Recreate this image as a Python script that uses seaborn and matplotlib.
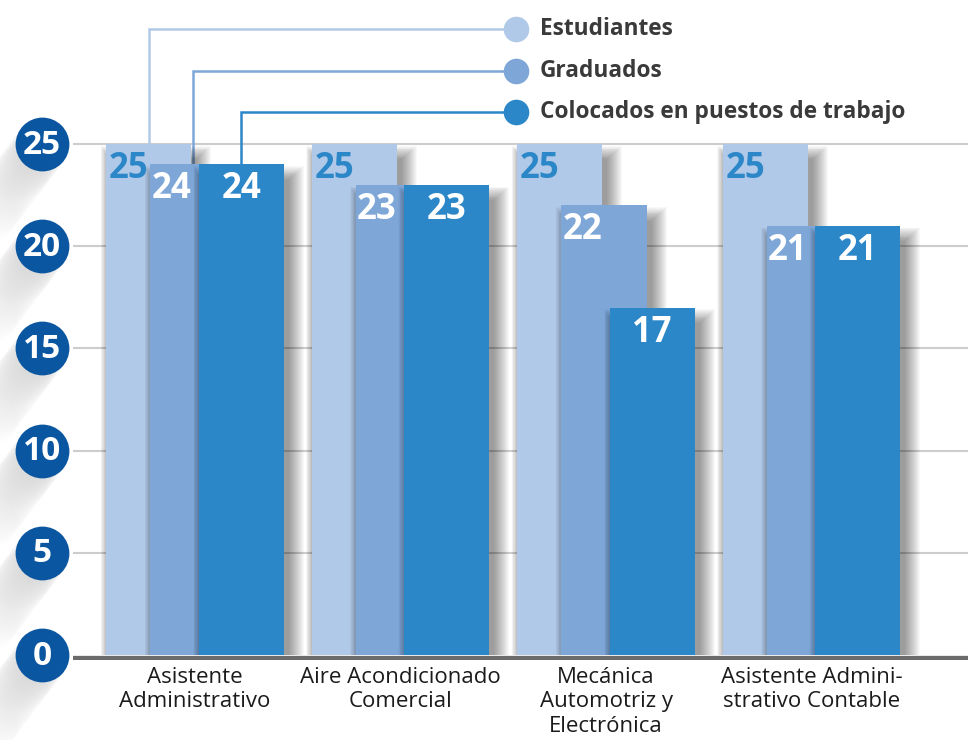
import numpy as np
import pandas as pd
import matplotlib
matplotlib.use("Agg")
import matplotlib.pyplot as plt
import seaborn as sns
from matplotlib.patches import Rectangle

# ---------------- data ----------------
categories = ["Asistente\nAdministrativo", "Aire Acondicionado\nComercial",
              "Mecánica\nAutomotriz y\nElectrónica", "Asistente Admini-\nstrativo Contable"]
series_names = ["Estudiantes", "Graduados", "Colocados en puestos de trabajo"]
estudiantes = [25, 25, 25, 25]
graduados = [24, 23, 22, 21]
colocados = [24, 23, 17, 21]
y_ticks = [0, 5, 10, 15, 20, 25]

colors = ["#b0c9e8", "#7ea7d8", "#2c87c8"]
tick_circle = "#0a56a0"

sns.set_theme(style="white")
plt.rcParams["font.family"] = ["Open Sans", "DejaVu Sans"]

W, H = 968, 740
fig = plt.figure(figsize=(W / 100, H / 100), dpi=100)
ax_left, ax_right, ax_bottom_px, ax_top_px = 73, 968, 660, 0
ax = fig.add_axes([ax_left / W, 1 - ax_bottom_px / H, (ax_right - ax_left) / W,
                   (ax_bottom_px - ax_top_px) / H])

PX_X = 205.5   # pixels per category unit
PX_Y = 20.44   # pixels per value unit
x0_px = 195.0  # pixel of category 0
XL = ((ax_left - x0_px) / PX_X, (ax_right - x0_px) / PX_X)
YL = (-(ax_bottom_px - 655) / PX_Y, (655 - ax_top_px) / PX_Y)
ax.set_xlim(*XL)
ax.set_ylim(*YL)

pos = np.arange(len(categories))
offsets = [-0.225, -0.01, 0.225]
bar_w = 0.415
all_vals = [estudiantes, graduados, colocados]

# gridlines
for t in y_ticks[1:]:
    ax.axhline(t, color="#cdcdcd", lw=1.5, zorder=0)
ax.axhline(-2.5 / PX_Y, color="#6b6b6b", lw=3.8, zorder=20)

for i, (name, vals) in enumerate(zip(series_names, all_vals)):
    df = pd.DataFrame({"x": pos + offsets[i], "y": vals})
    n_before = len(ax.patches)
    sns.barplot(data=df, x="x", y="y", native_scale=True, width=bar_w,
                color=colors[i], saturation=1, ax=ax, errorbar=None)
    new = ax.patches[n_before:]
    base_z = 2 + i * 2
    for p in new:
        p.set_zorder(base_z + 1)
        p.set_edgecolor("none")
        bx, bw, bh = p.get_x(), p.get_width(), p.get_height()
        # soft blurred shadow, mostly to the right, fading at the top
        for k in range(1, 17):
            s = k / PX_X
            ax.add_patch(Rectangle((bx - s * 0.6 + 4 / PX_X, 0), bw + 1.6 * s,
                                   bh - (18 - k) * 0.9 / PX_Y,
                                   color="black", alpha=0.026, lw=0, zorder=base_z))
    # value labels
    for j, v in enumerate(vals):
        bx = pos[j] + offsets[i] - bar_w / 2
        ty = v - 7 / PX_Y
        if i == 0:
            ax.text(bx + 3 / PX_X, ty, str(v), ha="left", va="top", fontsize=25,
                    fontweight="bold", color=colors[2], zorder=30)
        elif i == 1:
            ax.text(bx + 1 / PX_X, ty, str(v), ha="left", va="top", fontsize=25,
                    fontweight="bold", color="white", zorder=30)
        else:
            ax.text(pos[j] + offsets[i], ty, str(v), ha="center", va="top", fontsize=25,
                    fontweight="bold", color="white", zorder=30)

# legend with connectors
leg_rows_px = [29, 71, 112]
leg_x = (516 - x0_px) / PX_X
for i, name in enumerate(series_names):
    ry = (655 - leg_rows_px[i]) / PX_Y
    cx = pos[0] + offsets[i]
    top = all_vals[i][0]
    ax.plot([cx, cx, leg_x], [top, ry, ry], color=colors[i], lw=1.8, zorder=1,
            clip_on=False, solid_joinstyle="miter")
    ax.scatter([leg_x], [ry], s=340, color=colors[i], zorder=25, clip_on=False, lw=0)
    ax.text(leg_x + 24 / PX_X, ry, name, ha="left", va="center", fontsize=16.3,
            fontweight="bold", color="#3a3a3a", zorder=25)

# y tick circles with long shadow
cx_t = (42 - x0_px) / PX_X
for t in y_ticks:
    for k in range(0, 90, 2):
        a = 0.009 * (1 - k / 90)
        ax.scatter([cx_t - 0.75 * k / PX_X], [t - k / PX_Y], s=1500, color="black",
                   alpha=a, lw=0, zorder=1, clip_on=False)
    ax.scatter([cx_t], [t], s=1500, color=tick_circle, lw=0, zorder=40, clip_on=False)
    ax.text(cx_t, t - 0.05, str(t), ha="center", va="center", fontsize=24,
            fontweight="bold", color="white", zorder=41)

ax.set_xticks(pos)
ax.set_xticklabels(categories, fontsize=16, color="#1b1b1b", linespacing=1.22)
ax.set_yticks([])
ax.tick_params(axis="x", length=0, pad=5)
ax.set_xlabel("")
ax.set_ylabel("")
for sp in ax.spines.values():
    sp.set_visible(False)
ax.set_xlim(*XL)
ax.set_ylim(*YL)

fig.savefig("out.png", dpi=100, facecolor="white")
